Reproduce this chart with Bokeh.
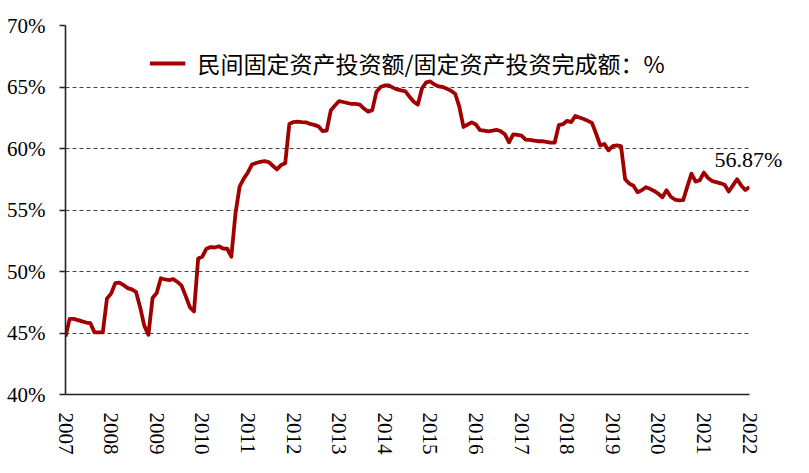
import math
from bokeh.plotting import figure
from bokeh.models import Range1d, FixedTicker, PrintfTickFormatter, Label, Legend, LegendItem
from bokeh.embed import file_html
from bokeh.resources import INLINE

# ---- data (monthly, Feb-2007 .. Dec-2021) ----
year_labels = [str(y) for y in range(2007, 2023)]
months_per_year = 11

share_2007 = [44.7, 46.15, 46.15, 46.05, 45.95, 45.85, 45.8, 45.05, 45.05, 45.05, 47.8]
share_2008 = [48.2, 49.05, 49.1, 48.9, 48.65, 48.55, 48.35, 47.1, 45.6, 44.85, 47.85]
share_2009 = [48.25, 49.45, 49.35, 49.3, 49.38, 49.15, 48.85, 48.0, 47.1, 46.75, 51.05]
share_2010 = [51.2, 51.85, 51.98, 51.95, 52.05, 51.87, 51.85, 51.2, 54.7, 56.9, 57.55]
share_2011 = [58.05, 58.7, 58.82, 58.92, 58.98, 58.9, 58.6, 58.3, 58.65, 58.8, 62.0]
share_2012 = [62.15, 62.18, 62.15, 62.13, 62.0, 61.92, 61.8, 61.42, 61.45, 63.1, 63.5]
share_2013 = [63.85, 63.78, 63.7, 63.62, 63.62, 63.57, 63.25, 63.0, 63.12, 64.6, 65.0]
share_2014 = [65.12, 65.12, 64.95, 64.8, 64.72, 64.65, 64.2, 63.8, 63.57, 64.9, 65.38]
share_2015 = [65.45, 65.2, 65.05, 65.0, 64.85, 64.7, 64.45, 63.4, 61.75, 61.95, 62.12]
share_2016 = [61.95, 61.5, 61.45, 61.4, 61.45, 61.52, 61.4, 61.15, 60.5, 61.15, 61.1]
share_2017 = [61.05, 60.72, 60.7, 60.65, 60.59, 60.59, 60.53, 60.47, 60.47, 61.9, 61.98]
share_2018 = [62.25, 62.15, 62.65, 62.52, 62.4, 62.25, 62.08, 61.2, 60.25, 60.37, 59.85]
share_2019 = [60.19, 60.25, 60.2, 57.5, 57.15, 56.97, 56.45, 56.6, 56.85, 56.72, 56.55]
share_2020 = [56.32, 56.03, 56.6, 56.08, 55.85, 55.78, 55.8, 56.9, 57.96, 57.31, 57.42]
share_2021 = [58.04, 57.6, 57.35, 57.27, 57.17, 57.05, 56.5, 57.0, 57.5, 57.0, 56.62, 56.87]

share = (share_2007 + share_2008 + share_2009 + share_2010 + share_2011 + share_2012
         + share_2013 + share_2014 + share_2015 + share_2016 + share_2017 + share_2018
         + share_2019 + share_2020 + share_2021)
idx = list(range(len(share)))

y_ticks = [40, 45, 50, 55, 60, 65, 70]
series_name = "民间固定资产投资额/固定资产投资完成额：%"

RED = "#A00000"
SERIF = "Liberation Serif"
CJK = "Noto Sans CJK SC"

p = figure(width=793, height=457, output_backend="svg", toolbar_location=None,
           x_range=Range1d(0, len(share) - 1), y_range=Range1d(40, 70),
           min_border_left=65, min_border_right=44, min_border_top=25, min_border_bottom=57)
p.outline_line_color = None
p.background_fill_color = "white"
p.border_fill_color = "white"

r = p.line(idx, share, line_color=RED, line_width=3.8, line_join="round")

# axes
tick_pos = [i * months_per_year for i in range(len(year_labels))]
p.xaxis.ticker = FixedTicker(ticks=tick_pos)
p.xaxis.major_label_overrides = {t: lab for t, lab in zip(tick_pos, year_labels)}
p.xaxis.major_label_orientation = -math.pi / 2
p.xaxis.major_tick_line_color = None
p.xaxis.minor_tick_line_color = None
p.xaxis.major_label_standoff = 12
p.xaxis.major_label_text_font = SERIF
p.xaxis.major_label_text_font_size = "21px"
p.xaxis.major_label_text_color = "black"
p.xaxis.axis_line_color = "#222222"
p.xaxis.axis_line_width = 1.6

p.yaxis.ticker = FixedTicker(ticks=y_ticks)
p.yaxis.formatter = PrintfTickFormatter(format="%d%%")
p.yaxis.minor_tick_line_color = None
p.yaxis.major_tick_out = 6
p.yaxis.major_tick_in = 0
p.yaxis.major_tick_line_color = "#222222"
p.yaxis.major_tick_line_width = 1.6
p.yaxis.major_label_standoff = 14
p.yaxis.major_label_text_font = SERIF
p.yaxis.major_label_text_font_size = "21px"
p.yaxis.major_label_text_color = "black"
p.yaxis.axis_line_color = "#222222"
p.yaxis.axis_line_width = 1.6

p.xgrid.grid_line_color = None
p.ygrid.grid_line_color = "#444444"
p.ygrid.grid_line_dash = "4 3"
p.ygrid.grid_line_width = 1

# legend
legend = Legend(items=[LegendItem(label=series_name, renderers=[r])],
                location="top_center", orientation="horizontal")
legend.border_line_color = None
legend.background_fill_alpha = 0
legend.padding = 0
legend.margin = 21
legend.glyph_width = 36
legend.glyph_height = 22
legend.label_standoff = 12
legend.label_text_font = CJK
legend.label_text_font_size = "23px"
legend.label_text_color = "black"
legend.label_text_baseline = "middle"
p.add_layout(legend)

# end annotation (placed in a side panel so it is not clipped by the frame)
end_label = Label(x=idx[-1], y=share[-1], text=f"{share[-1]:.2f}%",
                  text_align="center", text_baseline="alphabetic",
                  y_offset=27, x_offset=-1,
                  text_font=SERIF, text_font_size="22px", text_color="black")
p.add_layout(end_label, "above")

open("out.html", "w").write(file_html(p, INLINE))
